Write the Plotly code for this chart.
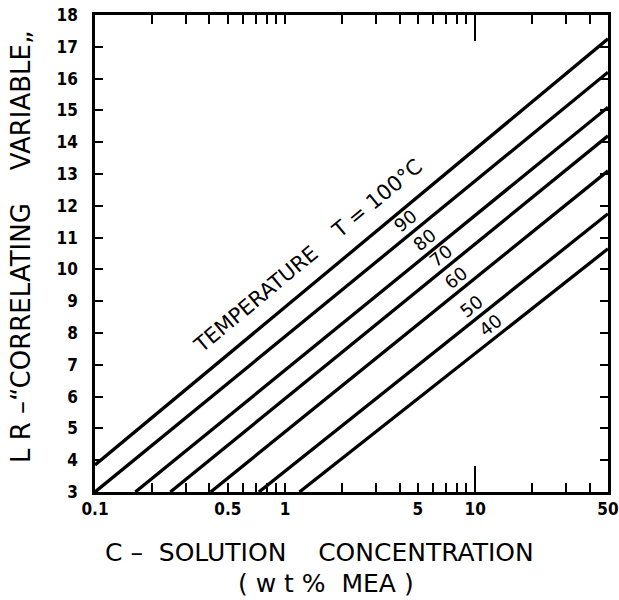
import math
import plotly.graph_objects as go

# Isotherms of the correlating variable vs. MEA concentration (straight on a log-C axis)
temps = [100, 90, 80, 70, 60, 50, 40]
c_start = [0.1, 0.1, 0.163, 0.249, 0.406, 0.728, 1.19]
lr_start = [3.85, 3.0, 3.0, 3.0, 3.0, 3.0, 3.0]
c_end = [50, 50, 50, 50, 50, 50, 50]
lr_end = [17.25, 16.2, 15.1, 14.2, 13.1, 11.75, 10.65]

# where each isotherm carries its temperature label (concentration along the line)
label_c = [1.60, 4.77, 6.01, 7.30, 8.75, 10.5, 13.2]
label_text = ["TEMPERATURE    T = 100°C", "90", "80", "70", "60", "50", "40"]

x_major = [0.1, 0.5, 1, 5, 10, 50]
x_major_text = ["0.1", "0.5", "1", "5", "10", "50"]
x_minor = [0.2, 0.3, 0.4, 0.6, 0.7, 0.8, 0.9, 2, 3, 4, 6, 7, 8, 9, 20, 30, 40]
y_tickvals = list(range(3, 19))

FONT = "DejaVu Sans"
NUMFONT = "DejaVu Sans Condensed, DejaVu Sans"
W, H = 619, 600
ML, MR, MT, MB = 95, 11, 15, 108

# all x ticks on one axis; minor positions carry empty labels
x_ticks = sorted(x_major + x_minor)
x_text = [x_major_text[x_major.index(v)] if v in x_major else "" for v in x_ticks]

fig = go.Figure()
for t, c0, y0, c1, y1 in zip(temps, c_start, lr_start, c_end, lr_end):
    fig.add_trace(go.Scatter(
        x=[c0, c1], y=[y0, y1], mode="lines",
        line=dict(color="black", width=3.3),
        name=f"{t} °C", showlegend=False, hoverinfo="skip",
    ))

# label geometry: text rotated parallel to the isotherms, lifted off the line
xr = (math.log10(0.1), math.log10(50))
yr = (3, 18)
plot_w = W - ML - MR
plot_h = H - MT - MB
px_per_dec = plot_w / (xr[1] - xr[0])
px_per_unit = plot_h / (yr[1] - yr[0])

annotations = []
for i, (t, c0, y0, c1, y1) in enumerate(zip(temps, c_start, lr_start, c_end, lr_end)):
    slope = (y1 - y0) / (math.log10(c1) - math.log10(c0))
    ang = math.degrees(math.atan2(slope * px_per_unit, px_per_dec))
    lc = label_c[i]
    ly = y0 + slope * (math.log10(lc) - math.log10(c0))
    off = 25 if i == 0 else 13
    nx, ny = -math.sin(math.radians(ang)), math.cos(math.radians(ang))
    annotations.append(dict(
        x=math.log10(lc), y=ly, xref="x", yref="y",
        text=label_text[i], showarrow=False, textangle=-ang,
        xshift=off * nx, yshift=off * ny,
        font=dict(family=FONT, size=21 if i == 0 else 18, color="black"),
    ))

titles = [
    dict(text="C \u2013  SOLUTION    CONCENTRATION", px=319, py=552, angle=0, size=25),
    dict(text="( w t %  MEA )", px=326, py=583, angle=0, size=25),
    dict(text="L R \u2013\u201CCORRELATING    VARIABLE\u201E", px=21, py=247, angle=-90, size=26),
]
for tt in titles:
    annotations.append(dict(
        text=tt["text"], xref="paper", yref="paper", showarrow=False,
        xanchor="center", yanchor="middle",
        x=(tt["px"] - ML) / plot_w, y=(H - tt["py"] - MB) / plot_h,
        textangle=tt["angle"], font=dict(family=FONT, size=tt["size"], color="black"),
    ))

fig.update_layout(
    width=W, height=H,
    margin=dict(l=ML, r=MR, t=MT, b=MB, autoexpand=False),
    paper_bgcolor="white", plot_bgcolor="white",
    annotations=annotations,
    xaxis=dict(
        type="log", range=list(xr), automargin=False,
        tickmode="array", tickvals=x_ticks, ticktext=x_text,
        ticks="inside", ticklen=9, tickwidth=1.6, tickcolor="black",
        showline=True, linecolor="black", linewidth=2.6, mirror="ticks",
        showgrid=False, zeroline=False,
        tickfont=dict(family=NUMFONT, size=17, color="black", weight="bold"),
    ),
    xaxis2=dict(
        type="log", range=list(xr), overlaying="x", anchor="y", side="bottom",
        tickmode="array", tickvals=[10], ticks="inside", ticklen=26, tickwidth=1.8,
        tickcolor="black", showticklabels=False, showline=False, showgrid=False,
        mirror="ticks", zeroline=False, automargin=False,
    ),
    yaxis=dict(
        range=list(yr), tickmode="array", tickvals=y_tickvals, automargin=False,
        ticks="inside", ticklen=8, tickwidth=1.6, tickcolor="black",
        showline=True, linecolor="black", linewidth=2.6, mirror="ticks",
        showgrid=False, zeroline=False, ticklabelstandoff=11,
        tickfont=dict(family=NUMFONT, size=17, color="black", weight="bold"),
    ),
)
# invisible trace that activates the overlay axis carrying the long decade tick
fig.add_trace(go.Scatter(x=[1], y=[10], xaxis="x2", yaxis="y", mode="markers",
                         marker=dict(opacity=0), showlegend=False, hoverinfo="skip"))

fig.write_html("out.html")
